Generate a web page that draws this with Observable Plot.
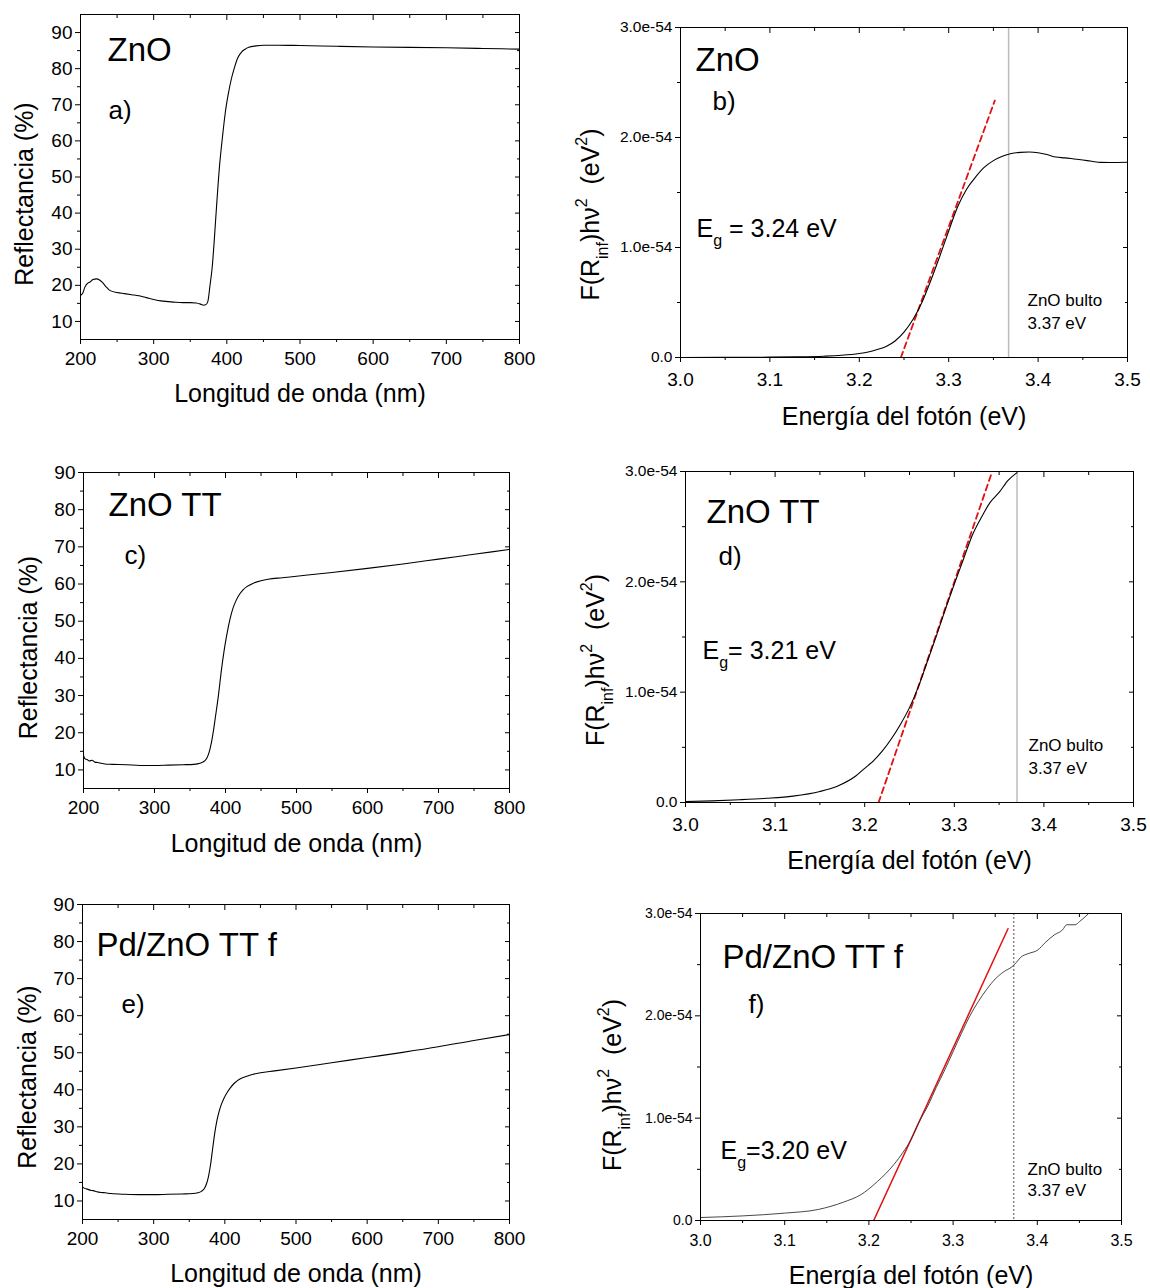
<!DOCTYPE html>
<html><head><meta charset="utf-8">
<script src="https://cdn.jsdelivr.net/npm/d3@7"></script>
<script src="https://cdn.jsdelivr.net/npm/@observablehq/plot@0.6"></script>
<style>
body{margin:0;background:#fff;}
#root{position:relative;width:1150px;height:1288px;overflow:hidden;background:#fff;font-family:"Liberation Sans",Arial,sans-serif;}
#root svg{position:absolute;max-width:none;background:transparent;overflow:visible;}
</style></head><body><div id="root"></div>
<script>
// ---------- tick labels ----------
const wlMajor = [200, 300, 400, 500, 600, 700, 800];
const wlMinor = [250, 350, 450, 550, 650, 750];
const refMajor = [10, 20, 30, 40, 50, 60, 70, 80, 90];
const refMinor = [15, 25, 35, 45, 55, 65, 75, 85];
const eMajor = [3.0, 3.1, 3.2, 3.3, 3.4, 3.5];
const eMinor = [3.05, 3.15, 3.25, 3.35, 3.45];
const fMajor = [0, 1e-54, 2e-54, 3e-54];
const fMinor = [0.5e-54, 1.5e-54, 2.5e-54];

// ---------- a) ZnO reflectance ----------
const wl_a = [200, 203, 206, 210, 213, 217, 222, 226, 230, 235, 240, 250, 260, 270, 280, 290, 300, 310, 320, 330, 340, 350, 358, 364, 368, 371, 374, 377, 380, 383, 386, 390, 394, 398, 402, 406, 410, 415, 420, 425, 430, 440, 450, 470, 500, 550, 600, 650, 700, 750, 800];
const R_a = [17.2, 17.8, 19.5, 20.6, 20.9, 21.6, 21.8, 21.5, 20.8, 19.6, 18.6, 18.0, 17.7, 17.4, 17.1, 16.6, 16.1, 15.7, 15.5, 15.3, 15.2, 15.2, 15.1, 14.8, 14.5, 14.6, 15.5, 20, 25, 33, 42, 53, 61, 68, 73, 77, 80, 83, 84.6, 85.4, 85.9, 86.3, 86.5, 86.5, 86.4, 86.2, 86.0, 85.9, 85.8, 85.6, 85.4];

// ---------- c) ZnO TT reflectance ----------
const wl_c = [200, 202, 205, 208, 212, 216, 220, 225, 230, 240, 260, 280, 300, 320, 340, 355, 362, 367, 371, 374, 377, 380, 383, 386, 390, 394, 398, 402, 406, 410, 415, 420, 425, 430, 440, 450, 460, 480, 500, 550, 600, 650, 700, 750, 800];
const R_c = [13.9, 13.0, 12.8, 12.4, 12.6, 12.1, 12.0, 11.8, 11.6, 11.5, 11.4, 11.2, 11.2, 11.3, 11.4, 11.5, 11.7, 12.0, 12.5, 13.3, 14.8, 17.2, 20.5, 24.5, 30, 36.5, 42, 46.5, 50.3, 53.2, 55.6, 57.3, 58.5, 59.3, 60.3, 60.9, 61.3, 61.7, 62.1, 63.1, 64.2, 65.4, 66.7, 68.0, 69.3];

// ---------- e) Pd/ZnO TT f reflectance ----------
const wl_e = [200, 203, 207, 211, 215, 220, 226, 232, 240, 260, 280, 300, 320, 340, 355, 362, 367, 371, 374, 377, 380, 383, 386, 389, 392, 395, 399, 403, 408, 414, 420, 430, 440, 450, 470, 500, 550, 600, 650, 700, 750, 800];
const R_e = [13.8, 13.4, 13.2, 12.9, 12.8, 12.5, 12.3, 12.2, 12.0, 11.8, 11.7, 11.7, 11.8, 11.9, 12.0, 12.2, 12.6, 13.3, 14.5, 16.6, 19.9, 24.3, 28.5, 31.8, 34.2, 36.0, 37.8, 39.2, 40.6, 41.9, 42.8, 43.6, 44.2, 44.6, 45.1, 45.9, 47.3, 48.7, 50.1, 51.6, 53.3, 54.9];

// ---------- b) ZnO Kubelka-Munk ----------
const E_b = [3.0, 3.05, 3.1, 3.13, 3.16, 3.18, 3.2, 3.21, 3.22, 3.23, 3.24, 3.25, 3.26, 3.27, 3.28, 3.29, 3.3, 3.31, 3.32, 3.33, 3.34, 3.35, 3.36, 3.37, 3.38, 3.39, 3.40, 3.41, 3.42, 3.43, 3.44, 3.45, 3.46, 3.47, 3.48, 3.5];
const F_b = [0, 0.001e-54, 0.003e-54, 0.006e-54, 0.012e-54, 0.02e-54, 0.036e-54, 0.05e-54, 0.072e-54, 0.1e-54, 0.15e-54, 0.23e-54, 0.345e-54, 0.5e-54, 0.7e-54, 0.92e-54, 1.15e-54, 1.37e-54, 1.53e-54, 1.64e-54, 1.73e-54, 1.79e-54, 1.83e-54, 1.855e-54, 1.865e-54, 1.868e-54, 1.862e-54, 1.845e-54, 1.822e-54, 1.815e-54, 1.805e-54, 1.795e-54, 1.784e-54, 1.774e-54, 1.773e-54, 1.775e-54];
const fitB_E = [3.2465, 3.3516];
const fitB_F = [0, 2.336e-54];
const bulk_b = [3.367];

// ---------- d) ZnO TT Kubelka-Munk ----------
const E_d = [3.0, 3.03, 3.06, 3.09, 3.12, 3.15, 3.17, 3.19, 3.2, 3.21, 3.22, 3.23, 3.24, 3.25, 3.26, 3.27, 3.28, 3.29, 3.3, 3.31, 3.32, 3.33, 3.34, 3.35, 3.36, 3.37];
const F_d = [0.009e-54, 0.015e-54, 0.025e-54, 0.038e-54, 0.058e-54, 0.1e-54, 0.15e-54, 0.24e-54, 0.31e-54, 0.38e-54, 0.47e-54, 0.58e-54, 0.71e-54, 0.86e-54, 1.05e-54, 1.28e-54, 1.51e-54, 1.75e-54, 1.98e-54, 2.2e-54, 2.42e-54, 2.58e-54, 2.72e-54, 2.81e-54, 2.92e-54, 2.99e-54];
const fitD_E = [3.2155, 3.3423];
const fitD_F = [0, 3.0e-54];
const bulk_d = [3.37];

// ---------- f) Pd/ZnO TT f Kubelka-Munk ----------
const E_f = [3.0, 3.05, 3.1, 3.14, 3.17, 3.19, 3.21, 3.23, 3.24, 3.25, 3.26, 3.27, 3.28, 3.29, 3.3, 3.31, 3.32, 3.33, 3.34, 3.35, 3.36, 3.37, 3.375, 3.38, 3.39, 3.4, 3.41, 3.42, 3.43, 3.435, 3.445, 3.45, 3.461];
const F_f = [0.029e-54, 0.045e-54, 0.072e-54, 0.108e-54, 0.18e-54, 0.25e-54, 0.38e-54, 0.55e-54, 0.66e-54, 0.79e-54, 0.97e-54, 1.12e-54, 1.3e-54, 1.47e-54, 1.65e-54, 1.83e-54, 2.0e-54, 2.14e-54, 2.26e-54, 2.36e-54, 2.43e-54, 2.48e-54, 2.52e-54, 2.57e-54, 2.61e-54, 2.64e-54, 2.72e-54, 2.79e-54, 2.84e-54, 2.89e-54, 2.89e-54, 2.92e-54, 3.0e-54];
const fitF_E = [3.2057, 3.3652];
const fitF_F = [0, 2.851e-54];
const bulk_f = [3.372];

// ---------- texts ----------
const xLabR = "Longitud de onda (nm)";
const yLabR = "Reflectancia (%)";
const xLabE = "Energía del fotón (eV)";
const yLabE = "F(R_inf)hν^2 (eV^2)";
const bulkText = ["ZnO bulto", "3.37 eV"];

const FONT = "Liberation Sans, Arial, sans-serif";
const richSpecs = {
  "F(R_inf)hν^2 (eV^2)": [["F(R",""],["inf","sub"],[")hν",""],["2","sup"],["  (eV",""],["2","sup"],[")",""]],
  "E_g = 3.24 eV": [["E",""],["g","sub"],[" = 3.24 eV",""]],
  "E_g= 3.21 eV": [["E",""],["g","sub"],["= 3.21 eV",""]],
  "E_g=3.20 eV": [["E",""],["g","sub"],["=3.20 eV",""]]
};

function richify(el, parts, fs) {
  while (el.firstChild) el.removeChild(el.firstChild);
  let cur = 0;
  for (const [s, k] of parts) {
    const t = document.createElementNS("http://www.w3.org/2000/svg", "tspan");
    const target = k === "sub" ? 0.38 * fs : k === "sup" ? -0.45 * fs : 0;
    if (target !== cur) t.setAttribute("dy", target - cur);
    cur = target;
    if (k) t.setAttribute("font-size", Math.round(fs * 0.62));
    t.textContent = s;
    el.appendChild(t);
  }
}

const zip = (xs, ys) => xs.map((x, i) => ({x, y: ys[i]}));
const root = document.getElementById("root");

function panel(cfg) {
  const {frame, mL, mR = 25, mT = 12, mB = 80} = cfg;
  const W = frame.r - frame.l + mL + mR;
  const H = frame.b - frame.t + mT + mB;
  const t = (s, o) => Plot.text([s], {text: d => d, fontFamily: FONT, ...o});
  const svg = Plot.plot({
    width: W, height: H,
    marginLeft: mL, marginRight: mR, marginTop: mT, marginBottom: mB,
    style: {fontFamily: FONT, background: "transparent", overflow: "visible", color: "black"},
    x: {domain: cfg.xDomain},
    y: {domain: cfg.yDomain},
    marks: [
      ...cfg.marks,
      Plot.frame({stroke: "black", strokeWidth: 1}),
      Plot.axisX(cfg.xMajor, {anchor: "bottom", tickSize: 5, tickPadding: cfg.xPad, tickFormat: cfg.xFmt, fontSize: cfg.xFont, label: null}),
      Plot.axisX(cfg.xMinor, {anchor: "bottom", tickSize: 3, tickFormat: () => "", label: null}),
      Plot.axisX(cfg.xMajor, {anchor: "top", tickSize: 5, dy: 5, tickFormat: () => "", label: null}),
      Plot.axisX(cfg.xMinor, {anchor: "top", tickSize: 3, dy: 3, tickFormat: () => "", label: null}),
      Plot.axisY(cfg.yMajor, {anchor: "left", tickSize: 5, tickPadding: cfg.yPad, tickFormat: cfg.yFmt, fontSize: cfg.yFont, label: null}),
      Plot.axisY(cfg.yMinor, {anchor: "left", tickSize: 3, tickFormat: () => "", label: null}),
      Plot.axisY(cfg.yMajor, {anchor: "right", tickSize: 5, dx: -5, tickFormat: () => "", label: null}),
      Plot.axisY(cfg.yMinor, {anchor: "right", tickSize: 3, dx: -3, tickFormat: () => "", label: null}),
      t(cfg.xLabel, {frameAnchor: "bottom", dy: cfg.xLabDy, fontSize: 25, textAnchor: "middle", lineAnchor: "middle"}),
      t(cfg.yLabel, {frameAnchor: "left", rotate: -90, dx: -cfg.yLabDx, dy: cfg.yLabDy, fontSize: 25, textAnchor: "middle", lineAnchor: "middle"}),
      ...cfg.texts.map(([s, dx, dy, fs]) => t(s, {frameAnchor: "top-left", dx, dy, fontSize: fs, textAnchor: "start", lineAnchor: "middle"}))
    ]
  });
  d3.select(svg).selectAll("text").each(function () {
    const spec = richSpecs[this.textContent];
    if (spec) {
      const fs = parseFloat(this.getAttribute("font-size") || this.parentNode.getAttribute("font-size") || 25);
      richify(this, spec, fs);
    }
  });
  svg.style.left = (frame.l - mL) + "px";
  svg.style.top = (frame.t - mT) + "px";
  root.appendChild(svg);
}

const reflBase = {
  mL: 75, xDomain: [200, 800],
  xMajor: wlMajor, xMinor: wlMinor, yMajor: refMajor, yMinor: refMinor,
  xFmt: d => String(d), yFmt: d => String(d), xFont: 19, yFont: 19, xPad: 7, yPad: 3,
  xLabel: xLabR, yLabel: yLabR
};
const enBase = {
  mL: 110, xDomain: [3.0, 3.5], yDomain: [0, 3e-54],
  xMajor: eMajor, xMinor: eMinor, yMajor: fMajor, yMinor: fMinor,
  xFmt: d => d.toFixed(1), yFmt: d => d === 0 ? "0.0" : d.toExponential(1),
  xFont: 19, yFont: 15.5, xPad: 10, yPad: 3,
  xLabel: xLabE, yLabel: yLabE
};
const curve = (xs, ys, o = {}) => Plot.line(zip(xs, ys), {x: "x", y: "y", stroke: "black", strokeWidth: 1.1, curve: "monotone-x", clip: true, ...o});

// a)
panel({...reflBase, frame: {l: 80, t: 14, r: 519, b: 339}, yDomain: [5, 95],
  marks: [curve(wl_a, R_a)],
  xLabDy: 54, yLabDx: 56, yLabDy: 17,
  texts: [["ZnO", 27, 36, 33], ["a)", 28, 96, 26]]});
// c)
panel({...reflBase, frame: {l: 83, t: 472, r: 509, b: 788}, yDomain: [5, 90],
  marks: [curve(wl_c, R_c)],
  xLabDy: 55, yLabDx: 55, yLabDy: 17,
  texts: [["ZnO TT", 25, 33, 33], ["c)", 41, 83, 26]]});
// e)
panel({...reflBase, frame: {l: 82, t: 904, r: 509, b: 1219}, yDomain: [5, 90],
  marks: [curve(wl_e, R_e)],
  xLabDy: 54, yLabDx: 55, yLabDy: 15,
  texts: [["Pd/ZnO TT f", 14, 41, 33], ["e)", 39, 100, 26]]});
// b)
panel({...enBase, frame: {l: 680, t: 27, r: 1127, b: 357},
  marks: [
    Plot.ruleX(bulk_b, {stroke: "#bbb", strokeWidth: 1.5}),
    Plot.line(zip(fitB_E, fitB_F), {x: "x", y: "y", stroke: "#e41010", strokeWidth: 1.8, strokeDasharray: "6,4", clip: true}),
    curve(E_b, F_b)
  ],
  xLabDy: 59, yLabDx: 90, yLabDy: 22,
  texts: [["ZnO", 15, 33, 33], ["b)", 32, 74, 26], ["E_g = 3.24 eV", 16, 201, 25], [bulkText[0], 347, 273, 17], [bulkText[1], 347, 296, 17]]});
// d)
panel({...enBase, frame: {l: 685, t: 471, r: 1133, b: 802},
  marks: [
    Plot.ruleX(bulk_d, {stroke: "#999", strokeWidth: 1}),
    Plot.line(zip(fitD_E, fitD_F), {x: "x", y: "y", stroke: "#e41010", strokeWidth: 1.8, strokeDasharray: "6,4", clip: true}),
    curve(E_d, F_d)
  ],
  xLabDy: 58, yLabDx: 90, yLabDy: 23,
  texts: [["ZnO TT", 21, 41, 33], ["d)", 33, 85, 26], ["E_g= 3.21 eV", 17, 179, 25], [bulkText[0], 343, 274, 17], [bulkText[1], 343, 297, 17]]});
// f)
panel({...enBase, frame: {l: 700, t: 913, r: 1121, b: 1220}, xFont: 16, yFont: 14, xPad: 9,
  marks: [
    Plot.ruleX(bulk_f, {stroke: "#888", strokeWidth: 1.5, strokeDasharray: "2,2"}),
    Plot.line(zip(fitF_E, fitF_F), {x: "x", y: "y", stroke: "#e41010", strokeWidth: 1.5, clip: true}),
    curve(E_f, F_f, {stroke: "#333", strokeWidth: 0.9})
  ],
  xLabDy: 55, yLabDx: 88, yLabDy: 18,
  texts: [["Pd/ZnO TT f", 22, 44, 33], ["f)", 48, 91, 26], ["E_g=3.20 eV", 20, 237, 25], [bulkText[0], 327, 256, 17], [bulkText[1], 327, 277, 17]]});
</script></body></html>
